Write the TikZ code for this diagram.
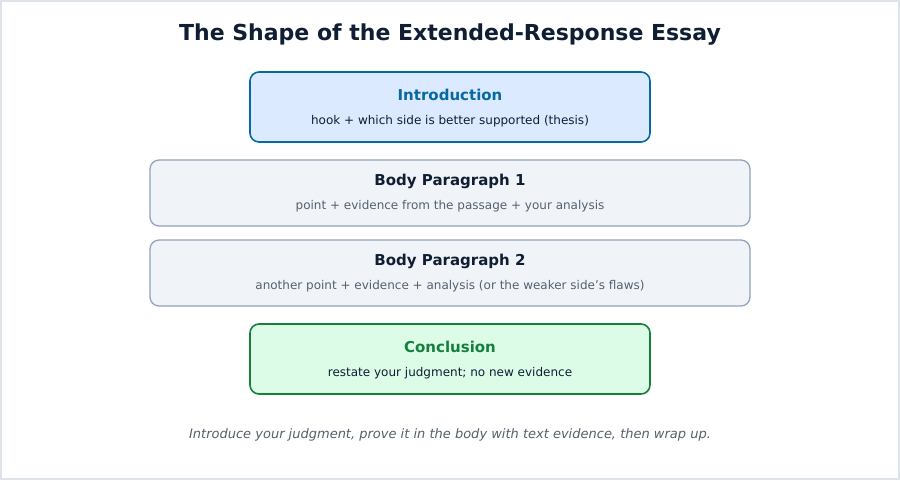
\documentclass[tikz,border=0pt]{standalone}
\usepackage{fontspec}
\setmainfont{DejaVu Sans}
\usepackage{xcolor}
\usetikzlibrary{positioning}
\definecolor{ink}{HTML}{0F1E33}
\definecolor{introfill}{HTML}{DBEAFE}
\definecolor{introline}{HTML}{0869A1}
\definecolor{bodyfill}{HTML}{F0F4F9}
\definecolor{bodyline}{HTML}{94A3B8}
\definecolor{conclfill}{HTML}{DCFCE7}
\definecolor{conclline}{HTML}{15803D}
\definecolor{muted}{HTML}{56606E}
\tikzset{
  part/.style={draw, rounded corners=9pt, line width=1.6pt, minimum height=70pt},
  bodypart/.style={draw=bodyline, fill=bodyfill, rounded corners=9pt, line width=1.3pt, minimum width=600pt, minimum height=66pt},
  head/.style={font=\bfseries\fontsize{15}{18}\selectfont},
  sub/.style={font=\fontsize{12}{14}\selectfont}
}
\begin{document}
\begin{tikzpicture}[x=1pt,y=-1pt]
            %%% FRAME %%%
            \draw[draw=bodyline!30, fill=white, line width=1.5pt] (1,1) rectangle (899,479);
            \useasboundingbox (0,0) rectangle (900,480);
            \node[text=ink, font=\bfseries\fontsize{22}{26}\selectfont] (title) at (450,35) {The Shape of the Extended-Response Essay};

            %%% BOXES %%%
            \node[part, draw=introline, fill=introfill, minimum width=400pt] (intro) at (450,107) {};
            \node[head, text=introline] (introhead) at (450,95) {Introduction};
            \node[sub, text=ink] (introsub) at (450,121) {hook + which side is better supported (thesis)};

            \node[bodypart] (body1) at (450,193) {};
            \node[head, text=ink] (body1head) at (450,181) {Body Paragraph 1};
            \node[sub, text=muted] (body1sub) at (450,206) {point + evidence from the passage + your analysis};

            \node[bodypart] (body2) at (450,273) {};
            \node[head, text=ink] (body2head) at (450,261) {Body Paragraph 2};
            \node[sub, text=muted] (body2sub) at (450,286) {another point + evidence + analysis (or the weaker side's flaws)};

            \node[part, draw=conclline, fill=conclfill, minimum width=400pt] (concl) at (450,359) {};
            \node[head, text=conclline] (conclhead) at (450,347) {Conclusion};
            \node[sub, text=ink] (conclsub) at (450,373) {restate your judgment; no new evidence};

            %%% FOOTER %%%
            \node[text=muted, font=\itshape\fontsize{13}{16}\selectfont] (footer) at (450,435) {Introduce your judgment, prove it in the body with text evidence, then wrap up.};
\end{tikzpicture}
\end{document}
